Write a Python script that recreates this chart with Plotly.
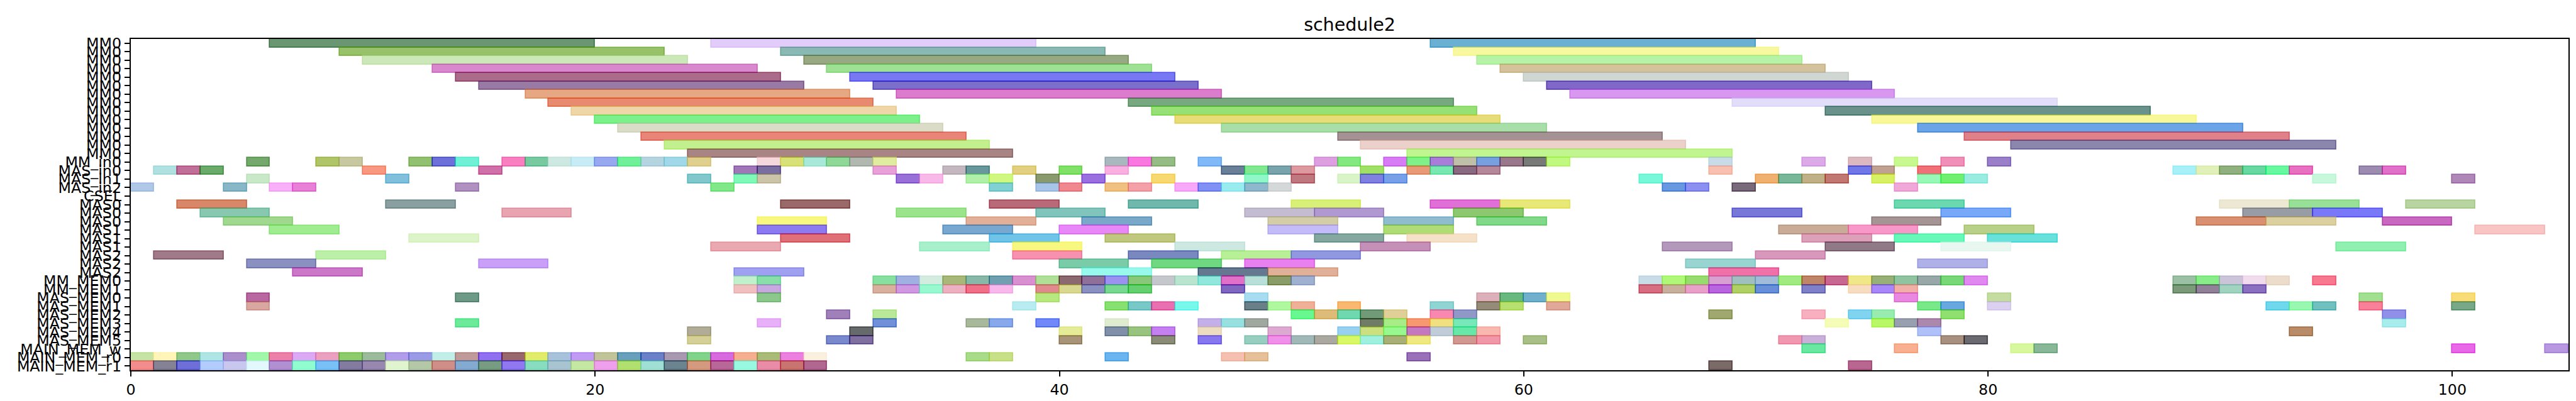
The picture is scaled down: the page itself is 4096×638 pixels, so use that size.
import plotly.graph_objects as go

# ---------------- data ----------------
row_labels = ["MM0", "MM0", "MM0", "MM0", "MM0", "MM0", "MM0", "MM0", "MM0", "MM0",
              "MM0", "MM0", "MM0", "MM0", "MM_in0", "MAS_in0", "MAS_in1", "MAS_in2",
              "CSEL", "MAS0", "MAS0", "MAS0", "MAS1", "MAS1", "MAS1", "MAS2", "MAS2",
              "MAS2", "MM_MEM0", "MM_MEM1", "MAS_MEM0", "MAS_MEM1", "MAS_MEM2",
              "MAS_MEM3", "MAS_MEM4", "MAS_MEM5", "MAIN_MEM_w", "MAIN_MEM_r0",
              "MAIN_MEM_r1"]

x_ticks = [0, 20, 40, 60, 80, 100]
chart_title = "schedule2"

# (row, start, end, colour as seen)
mm0_tasks = [
    (0, 6, 20, "#6a9672"), (0, 25, 39, "#e2ccfa"), (0, 56, 70, "#6ab0d2"),
    (1, 9, 23, "#98c26a"), (1, 28, 42, "#8ab8b2"), (1, 57, 71, "#f8f8a0"),
    (2, 10, 24, "#cce8b8"), (2, 29, 43, "#98a882"), (2, 58, 72, "#b6f2a8"),
    (3, 13, 27, "#d888cc"), (3, 30, 44, "#9ee094"), (3, 59, 73, "#d4c29c"),
    (4, 14, 28, "#aa6c8a"), (4, 31, 45, "#7878f4"), (4, 60, 74, "#d0d6d2"),
    (5, 15, 29, "#987aa4"), (5, 32, 46, "#7a70cc"), (5, 61, 75, "#8068c8"),
    (6, 17, 31, "#e6a882"), (6, 33, 47, "#dc7ccc"), (6, 62, 76, "#d898f0"),
    (7, 18, 32, "#e88a70"), (7, 43, 57, "#78a880"), (7, 69, 83, "#e2defa"),
    (8, 19, 33, "#eed6a8"), (8, 44, 58, "#96e076"), (8, 73, 87, "#6a928a"),
    (9, 20, 34, "#7cf08a"), (9, 45, 59, "#e8dc78"), (9, 75, 89, "#f8f898"),
    (10, 21, 35, "#dadcc8"), (10, 47, 61, "#a8dea8"), (10, 77, 91, "#6ca4e8"),
    (11, 22, 36, "#e88478"), (11, 52, 66, "#a49294"), (11, 79, 93, "#e08088"),
    (12, 23, 37, "#c2f08e"), (12, 53, 67, "#ecd0ca"), (12, 81, 95, "#8a86ae"),
    (13, 24, 38, "#a88484"), (13, 55, 69, "#c0f590"),
]

input_tasks = [
    (14, 5, 6, "#74a86c"), (14, 8, 9, "#b0c468"), (14, 9, 10, "#c8c8a0"),
    (14, 12, 13, "#90c070"), (14, 13, 14, "#6c70d8"), (14, 14, 15, "#70f0d4"),
    (14, 16, 17, "#f880c0"), (14, 17, 18, "#78c8a0"), (14, 18, 19, "#cce8e0"),
    (14, 19, 20, "#c8ecf5"), (14, 20, 21, "#98a8f0"), (14, 21, 22, "#70f098"),
    (14, 22, 23, "#b4d4e0"), (14, 23, 24, "#a0d8e8"), (14, 24, 25, "#e0d090"),
    (14, 27, 28, "#f5d8dc"), (14, 28, 29, "#d8e078"), (14, 29, 30, "#a8e8d8"),
    (14, 30, 31, "#90d898"), (14, 31, 32, "#b0b8b0"), (14, 32, 33, "#e0eca0"),
    (14, 42, 43, "#a8b8bc"), (14, 43, 44, "#f878e0"), (14, 44, 45, "#94bc84"),
    (14, 46, 47, "#80b8f8"), (14, 51, 52, "#dca0e0"), (14, 52, 53, "#84e880"),
    (14, 54, 55, "#d87cf5"), (14, 55, 56, "#80f088"), (14, 56, 57, "#a87cd8"),
    (14, 57, 58, "#c0c0a8"), (14, 58, 59, "#78a0e0"), (14, 59, 60, "#98788a"),
    (14, 60, 61, "#787a78"), (14, 61, 62, "#c0f880"), (14, 68, 69, "#c8dce8"),
    (14, 72, 73, "#dcaae8"), (14, 74, 75, "#dcb8c0"), (14, 76, 77, "#c8f890"),
    (14, 78, 79, "#f090b8"), (14, 80, 81, "#9a80c8"),
    (15, 1, 2, "#b0e0e0"), (15, 2, 3, "#c07098"), (15, 3, 4, "#6aaa6a"),
    (15, 10, 11, "#f89880"), (15, 15, 16, "#d070a8"), (15, 26, 27, "#a078b8"),
    (15, 27, 28, "#7a6ea0"), (15, 32, 33, "#e8a0d8"), (15, 35, 36, "#c4b8c0"),
    (15, 36, 37, "#68989c"), (15, 38, 39, "#e0d080"), (15, 40, 41, "#80e068"),
    (15, 42, 43, "#f8b0e0"), (15, 47, 48, "#6a8098"), (15, 48, 49, "#80e890"),
    (15, 49, 50, "#7aa4ac"), (15, 50, 51, "#dc9aa0"), (15, 53, 54, "#a0e060"),
    (15, 55, 56, "#e89a78"), (15, 56, 57, "#78e8b0"), (15, 57, 58, "#8a6a80"),
    (15, 58, 59, "#b48898"), (15, 68, 69, "#f8c0b0"), (15, 74, 75, "#7078e8"),
    (15, 75, 76, "#c0a090"), (15, 77, 78, "#f07078"), (15, 88, 89, "#a8f0f8"),
    (15, 89, 90, "#e0f0b8"), (15, 90, 91, "#90b080"), (15, 91, 92, "#68d8a0"),
    (15, 92, 93, "#68f8a0"), (15, 93, 94, "#e870c0"), (15, 96, 97, "#9c8cb0"),
    (15, 97, 98, "#e070c8"),
    (16, 5, 6, "#c8e8c8"), (16, 11, 12, "#80c0dc"), (16, 24, 25, "#80c8cc"),
    (16, 26, 27, "#80f8b8"), (16, 27, 28, "#ccc4a8"), (16, 33, 34, "#9870d8"),
    (16, 34, 35, "#f8b8e8"), (16, 36, 37, "#b0f0a8"), (16, 37, 38, "#d0f880"),
    (16, 39, 40, "#8a9a6c"), (16, 41, 42, "#9a70e0"), (16, 44, 45, "#f8d870"),
    (16, 48, 49, "#90f8c8"), (16, 50, 51, "#c07880"), (16, 52, 53, "#d8f4c8"),
    (16, 53, 54, "#8080e0"), (16, 54, 55, "#78a0e8"), (16, 65, 66, "#78f8d8"),
    (16, 70, 71, "#f0b070"), (16, 71, 72, "#78b898"), (16, 72, 73, "#c0b088"),
    (16, 73, 74, "#c07870"), (16, 75, 76, "#d8f060"), (16, 77, 78, "#98f8b8"),
    (16, 78, 79, "#70f070"), (16, 79, 80, "#98ece0"), (16, 94, 95, "#c8f8dc"),
    (16, 100, 101, "#b088b8"),
    (17, 0, 1, "#b0c8e8"), (17, 4, 5, "#88b8c8"), (17, 6, 7, "#f8b0f8"),
    (17, 7, 8, "#e880d8"), (17, 14, 15, "#b090c0"), (17, 25, 26, "#80e888"),
    (17, 37, 38, "#80d0d4"), (17, 39, 40, "#a8c4e8"), (17, 40, 41, "#f08890"),
    (17, 42, 43, "#f0c080"), (17, 43, 44, "#f4a0a8"), (17, 45, 46, "#f8a8f8"),
    (17, 46, 47, "#8090f5"), (17, 47, 48, "#98ecf0"), (17, 48, 49, "#90b8cc"),
    (17, 49, 50, "#d4d8d8"), (17, 66, 67, "#6898e0"), (17, 67, 68, "#8c90f0"),
    (17, 69, 70, "#786a7a"), (17, 76, 77, "#f0a8d8"),
]

mas_tasks = [
    (19, 2, 5, "#d88868"), (19, 11, 14, "#8aa0a0"), (19, 28, 31, "#9a6a6a"),
    (19, 37, 40, "#b86a78"), (19, 43, 46, "#70b8ac"), (19, 50, 53, "#d8f078"),
    (19, 56, 59, "#e070d8"), (19, 59, 62, "#e8e878"), (19, 76, 79, "#6cd8b0"),
    (19, 90, 93, "#ece8d4"), (19, 93, 96, "#98e098"), (19, 98, 101, "#b8d4a0"),
    (20, 3, 6, "#88c8b0"), (20, 16, 19, "#e8a4b0"), (20, 33, 36, "#9ce48c"),
    (20, 39, 42, "#80c4bc"), (20, 48, 51, "#c4bcd0"), (20, 51, 54, "#b098d0"),
    (20, 57, 60, "#8cc870"), (20, 69, 72, "#7878d8"), (20, 78, 81, "#78a8f8"),
    (20, 91, 94, "#989ca4"), (20, 94, 97, "#7878f8"),
    (21, 4, 7, "#a0d890"), (21, 27, 30, "#f8f880"), (21, 36, 39, "#e2b098"),
    (21, 41, 44, "#7aa8c8"), (21, 49, 52, "#d4cea8"), (21, 54, 57, "#90bcd0"),
    (21, 58, 61, "#80d888"), (21, 75, 78, "#a49494"), (21, 89, 92, "#d89070"),
    (21, 92, 95, "#dcd0a0"), (21, 97, 100, "#c868c0"),
    (22, 6, 9, "#a0ec90"), (22, 27, 30, "#8c7af0"), (22, 35, 38, "#78a8d0"),
    (22, 40, 43, "#e888f8"), (22, 49, 52, "#c4bcf8"), (22, 54, 57, "#b0dc78"),
    (22, 71, 74, "#c8ac98"), (22, 74, 77, "#f898c8"), (22, 79, 82, "#b8d088"),
    (22, 101, 104, "#f8c4c4"),
    (23, 12, 15, "#dcf4c8"), (23, 28, 31, "#e07078"), (23, 37, 40, "#70c4e8"),
    (23, 42, 45, "#c0c880"), (23, 51, 54, "#84a8a0"), (23, 55, 58, "#f5e0c8"),
    (23, 72, 75, "#dca0b8"), (23, 76, 79, "#68f8b8"), (23, 80, 83, "#68e0dc"),
    (24, 25, 28, "#eaa8b0"), (24, 34, 37, "#a8f0cc"), (24, 38, 41, "#f8f880"),
    (24, 45, 48, "#cce8e0"), (24, 53, 56, "#c490b8"), (24, 66, 69, "#b498bc"),
    (24, 73, 76, "#907a88"), (24, 78, 81, "#e8f8f0"), (24, 95, 98, "#90f0b0"),
    (25, 1, 4, "#a07a88"), (25, 8, 11, "#bcf0a8"), (25, 38, 41, "#f890b0"),
    (25, 43, 46, "#7a88c0"), (25, 47, 50, "#b8f098"), (25, 50, 53, "#9098e0"),
    (25, 70, 73, "#d898bc"),
    (26, 5, 8, "#8a90c0"), (26, 15, 18, "#c8a0f8"), (26, 40, 43, "#7acca8"),
    (26, 44, 47, "#70d880"), (26, 48, 51, "#e880f0"), (26, 67, 70, "#98d4d0"),
    (26, 77, 80, "#b0b0e8"),
    (27, 7, 10, "#cc78c8"), (27, 26, 29, "#a0a0f0"), (27, 41, 44, "#98f8ec"),
    (27, 46, 49, "#647890"), (27, 49, 52, "#e0b098"), (27, 68, 71, "#f070a8"),
]

mem_tasks = [
    (28, 26, 27, "#c0f0cc"), (28, 27, 28, "#88e0a8"), (28, 32, 33, "#88e0a0"),
    (28, 33, 34, "#a0b0e0"), (28, 34, 35, "#d4ece0"), (28, 35, 36, "#a8b878"),
    (28, 36, 37, "#88b8a8"), (28, 37, 38, "#70a0b0"), (28, 38, 39, "#d890d0"),
    (28, 39, 40, "#b0e098"), (28, 40, 41, "#8a6a70"), (28, 41, 42, "#907098"),
    (28, 42, 43, "#9c90f0"), (28, 43, 44, "#88c878"), (28, 44, 45, "#c4c8cc"),
    (28, 45, 46, "#b8e4d0"), (28, 46, 47, "#90e8dc"), (28, 47, 48, "#e070c8"),
    (28, 48, 49, "#b8e0d8"), (28, 49, 50, "#8a9c68"), (28, 50, 51, "#a0b0d0"),
    (28, 65, 66, "#c8dce8"), (28, 66, 67, "#b0f878"), (28, 67, 68, "#98dc70"),
    (28, 68, 69, "#d8a0d0"), (28, 69, 70, "#a0c0c0"), (28, 70, 71, "#a0bcd8"),
    (28, 71, 72, "#a0ec80"), (28, 72, 73, "#c08468"), (28, 73, 74, "#c86890"),
    (28, 74, 75, "#f0e888"), (28, 75, 76, "#98b078"), (28, 76, 77, "#90c4a0"),
    (28, 77, 78, "#98a8a8"), (28, 78, 79, "#78d878"), (28, 79, 80, "#e088f0"),
    (28, 88, 89, "#9cc0a4"), (28, 89, 90, "#88ec88"), (28, 90, 91, "#ccc4d8"),
    (28, 91, 92, "#f0dcec"), (28, 92, 93, "#ecdccc"), (28, 94, 95, "#f87890"),
    (29, 26, 27, "#f0c0c0"), (29, 27, 28, "#c8a8e0"), (29, 32, 33, "#d8b0a0"),
    (29, 33, 34, "#d098e0"), (29, 34, 35, "#98f8d0"), (29, 35, 36, "#ecb0c0"),
    (29, 36, 37, "#f07088"), (29, 37, 38, "#f8b8ec"), (29, 39, 40, "#e08a90"),
    (29, 40, 41, "#d8d890"), (29, 41, 42, "#8a90c0"), (29, 42, 43, "#78d890"),
    (29, 43, 44, "#60d070"), (29, 47, 48, "#8068c0"), (29, 65, 66, "#d86c80"),
    (29, 66, 67, "#c8b09c"), (29, 67, 68, "#e8a0c8"), (29, 68, 69, "#b860e0"),
    (29, 69, 70, "#b0d060"), (29, 70, 71, "#6890d8"), (29, 72, 73, "#8080c8"),
    (29, 74, 75, "#f8dcc0"), (29, 75, 76, "#a888f8"), (29, 76, 77, "#f0b0a8"),
    (29, 88, 89, "#7a9a78"), (29, 89, 90, "#908098"), (29, 90, 91, "#a0d4c0"),
    (29, 91, 92, "#8c70c0"),
    (30, 5, 6, "#b868a0"), (30, 14, 15, "#709a88"), (30, 27, 28, "#8cc88c"),
    (30, 39, 40, "#b8e880"), (30, 48, 49, "#a8dcf0"), (30, 58, 59, "#dcb0b8"),
    (30, 59, 60, "#68b880"), (30, 60, 61, "#70b0cc"), (30, 61, 62, "#f0f890"),
    (30, 76, 77, "#e888e0"), (30, 80, 81, "#c4dca0"), (30, 96, 97, "#a0e090"),
    (30, 100, 101, "#f8dc78"),
    (31, 5, 6, "#d8a8a0"), (31, 38, 39, "#b8ecf0"), (31, 42, 43, "#88e070"),
    (31, 43, 44, "#78c8c8"), (31, 44, 45, "#e870b0"), (31, 45, 46, "#78f8ec"),
    (31, 48, 49, "#6a8088"), (31, 49, 50, "#b0f8a0"), (31, 50, 51, "#f0b098"),
    (31, 52, 53, "#f8b870"), (31, 56, 57, "#90d4d4"), (31, 58, 59, "#948c78"),
    (31, 59, 60, "#b8e070"), (31, 61, 62, "#e0a898"), (31, 77, 78, "#78e888"),
    (31, 78, 79, "#68a8e0"), (31, 80, 81, "#dcd0f0"), (31, 92, 93, "#70d8ec"),
    (31, 93, 94, "#98f8b0"), (31, 94, 95, "#70c0c0"), (31, 96, 97, "#f88098"),
    (31, 100, 101, "#78a888"),
    (32, 30, 31, "#a080b8"), (32, 32, 33, "#b8e898"), (32, 50, 51, "#68f890"),
    (32, 51, 52, "#dcbc78"), (32, 52, 53, "#70d8b0"), (32, 53, 54, "#709a78"),
    (32, 54, 55, "#e0d098"), (32, 56, 57, "#f888b0"), (32, 57, 58, "#9098c8"),
    (32, 68, 69, "#a0a870"), (32, 72, 73, "#f8b0c0"), (32, 74, 75, "#80d4f0"),
    (32, 75, 76, "#98ecb0"), (32, 78, 79, "#90e070"), (32, 97, 98, "#9090e8"),
    (33, 14, 15, "#6cea9a"), (33, 27, 28, "#e8b0f8"), (33, 32, 33, "#7090d8"),
    (33, 36, 37, "#a8b89a"), (33, 37, 38, "#88a8ec"), (33, 39, 40, "#7088f8"),
    (33, 42, 43, "#e0ecd0"), (33, 46, 47, "#c4b0e8"), (33, 47, 48, "#98e0e0"),
    (33, 48, 49, "#a0a8a0"), (33, 53, 54, "#707c60"), (33, 54, 55, "#a8ec88"),
    (33, 55, 56, "#f89870"), (33, 56, 57, "#f0e080"), (33, 57, 58, "#78e8b8"),
    (33, 73, 74, "#f5fcb8"), (33, 75, 76, "#b8f868"), (33, 76, 77, "#98a0b0"),
    (33, 77, 78, "#ac88ac"), (33, 97, 98, "#a8ecec"),
    (34, 24, 25, "#b0ac98"), (34, 31, 32, "#646a6a"), (34, 40, 41, "#e4ec98"),
    (34, 42, 43, "#8090a8"), (34, 43, 44, "#98c480"), (34, 44, 45, "#c480f0"),
    (34, 46, 47, "#ecdcc0"), (34, 49, 50, "#dcaad0"), (34, 52, 53, "#98d0f0"),
    (34, 53, 54, "#cce080"), (34, 54, 55, "#98f890"), (34, 55, 56, "#c478c0"),
    (34, 56, 57, "#c0ccd8"), (34, 57, 58, "#68e8a8"), (34, 58, 59, "#f8b8b0"),
    (34, 77, 78, "#b0c0f8"), (34, 93, 94, "#b88c68"),
    (35, 24, 25, "#d4d098"), (35, 30, 31, "#7a88cc"), (35, 31, 32, "#8070a0"),
    (35, 40, 41, "#a89478"), (35, 44, 45, "#8a8c78"), (35, 46, 47, "#8878f0"),
    (35, 48, 49, "#98cec0"), (35, 49, 50, "#f090e8"), (35, 50, 51, "#a0b8b8"),
    (35, 51, 52, "#aaa8a0"), (35, 52, 53, "#d8f868"), (35, 53, 54, "#a0f0e0"),
    (35, 54, 55, "#a8b078"), (35, 55, 56, "#f0e880"), (35, 57, 58, "#d09890"),
    (35, 58, 59, "#f098a8"), (35, 60, 61, "#a8c088"), (35, 71, 72, "#f098b0"),
    (35, 72, 73, "#c8b0d8"), (35, 78, 79, "#a89080"), (35, 79, 80, "#6a6a70"),
]

main_mem_tasks = [
    (36, 72, 73, "#68e8a0"), (36, 76, 77, "#f8b090"), (36, 81, 82, "#d8f8a0"),
    (36, 82, 83, "#88b898"), (36, 100, 101, "#e868e8"), (36, 104, 105, "#b898e0"),
    (37, 0, 1, "#c5e3a5"), (37, 1, 2, "#fff5b8"), (37, 2, 3, "#90c88a"),
    (37, 3, 4, "#b0e5e5"), (37, 4, 5, "#aa8fcc"), (37, 5, 6, "#a0f8a8"),
    (37, 6, 7, "#ec80a8"), (37, 7, 8, "#dcaaf5"), (37, 8, 9, "#eca0c0"),
    (37, 9, 10, "#8ccc6a"), (37, 10, 11, "#9cbb9a"), (37, 11, 12, "#b09ce8"),
    (37, 12, 13, "#9a9ae6"), (37, 13, 14, "#c2eee8"), (37, 14, 15, "#c09a98"),
    (37, 15, 16, "#9070f0"), (37, 16, 17, "#98686c"), (37, 17, 18, "#e0ec6a"),
    (37, 18, 19, "#a8c2dc"), (37, 19, 20, "#c09af5"), (37, 20, 21, "#c0c498"),
    (37, 21, 22, "#68a0bc"), (37, 22, 23, "#6a80c8"), (37, 23, 24, "#a898b0"),
    (37, 24, 25, "#80d48a"), (37, 25, 26, "#d86ae0"), (37, 26, 27, "#f5ae90"),
    (37, 27, 28, "#a8bc78"), (37, 28, 29, "#ec80e0"), (37, 29, 30, "#faf0e0"),
    (37, 36, 37, "#a8dc88"), (37, 37, 38, "#c8e088"), (37, 42, 43, "#6ab5f0"),
    (37, 47, 48, "#f5c0b0"), (37, 48, 49, "#e5c098"), (37, 55, 56, "#9a70b8"),
    (38, 0, 1, "#f28d8d"), (38, 1, 2, "#848294"), (38, 2, 3, "#6f6fd8"),
    (38, 3, 4, "#b4ccfc"), (38, 4, 5, "#c8c8ee"), (38, 5, 6, "#e2f8fc"),
    (38, 6, 7, "#b090d0"), (38, 7, 8, "#90fcd0"), (38, 8, 9, "#78c0f5"),
    (38, 9, 10, "#847ca0"), (38, 10, 11, "#9888b0"), (38, 11, 12, "#e0f4d0"),
    (38, 12, 13, "#b4c8a8"), (38, 13, 14, "#d08e88"), (38, 14, 15, "#84aad0"),
    (38, 15, 16, "#789c82"), (38, 16, 17, "#9078f0"), (38, 17, 18, "#88dcc0"),
    (38, 18, 19, "#a8c4d0"), (38, 19, 20, "#c4e8a4"), (38, 20, 21, "#eea0ec"),
    (38, 21, 22, "#b2e070"), (38, 22, 23, "#a0e0d4"), (38, 23, 24, "#6c8490"),
    (38, 24, 25, "#d49a80"), (38, 25, 26, "#b86898"), (38, 26, 27, "#98f8e0"),
    (38, 27, 28, "#e88ca8"), (38, 28, 29, "#c87470"), (38, 29, 30, "#b06890"),
    (38, 68, 69, "#7a6a68"), (38, 74, 75, "#b86890"),
]

# ---------------- styling ----------------
S = 0.855
ALPHA = 0.6
FONT = "DejaVu Sans"


def to_rgba(hex_seen):
    """Recover the semi-transparent colour that gives the seen colour on white."""
    h = hex_seen.lstrip("#")
    vals = [int(h[i:i + 2], 16) for i in (0, 2, 4)]
    base = [max(0, min(255, round((v - 255 * (1 - ALPHA)) / ALPHA))) for v in vals]
    return "rgba(%d,%d,%d,%.2f)" % (base[0], base[1], base[2], ALPHA)


all_tasks = mm0_tasks + input_tasks + mas_tasks + mem_tasks + main_mem_tasks
rows = [t[0] for t in all_tasks]
starts = [t[1] for t in all_tasks]
lengths = [t[2] - t[1] for t in all_tasks]
colours = [to_rgba(t[3]) for t in all_tasks]

fig = go.Figure()
fig.add_trace(go.Bar(
    orientation="h",
    y=rows,
    x=lengths,
    base=starts,
    width=1.0,
    marker=dict(color=colours, line=dict(color=colours, width=2.0 * S)),
    hoverinfo="skip",
    showlegend=False,
))

W, H = 4096, 638
left, right = 234.5 * S, 4767.7 * S
top, bottom = 62.7 * S, 679.0 * S

axis_common = dict(
    showline=True, linecolor="black", linewidth=2.2 * S, mirror=True,
    ticks="outside", ticklen=9.7 * S, tickwidth=2.2 * S, tickcolor="black",
    showgrid=False, zeroline=False,
    tickfont=dict(family=FONT, size=27.8 * S, color="black"),
)

fig.update_layout(
    width=W, height=H,
    margin=dict(l=left, r=W - right, t=top, b=H - bottom, pad=0),
    paper_bgcolor="white", plot_bgcolor="white",
    barmode="overlay",
    bargap=0,
    title=dict(text=chart_title, x=0.5, xref="paper", xanchor="center",
               y=1 - 31 / H, yref="container", yanchor="middle",
               font=dict(family=FONT, size=33.3 * S, color="black")),
    xaxis=dict(range=[0, 105], tickmode="array", tickvals=x_ticks,
               ticktext=[str(v) for v in x_ticks], **axis_common),
    yaxis=dict(range=[len(row_labels) - 0.5, -0.5], tickmode="array",
               tickvals=list(range(len(row_labels))), ticktext=row_labels,
               **axis_common),
)

fig.write_html("out.html")
